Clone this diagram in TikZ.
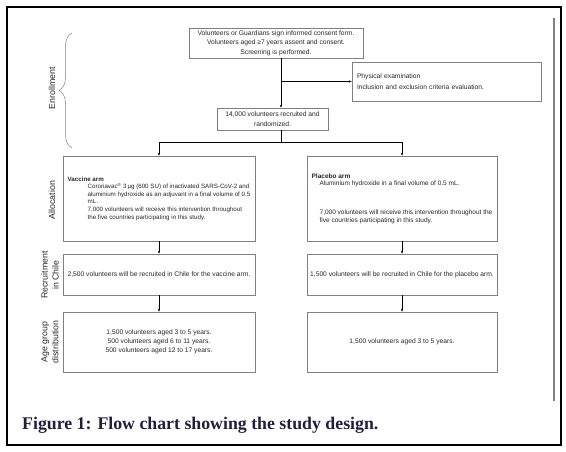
\documentclass[tikz,border=0pt]{standalone}
\usepackage{fontspec}
\setmainfont{Liberation Sans}
\newfontfamily\capfont{Liberation Serif}
\usetikzlibrary{arrows.meta,decorations.pathreplacing}
\definecolor{boxgray}{RGB}{128,128,128}
\definecolor{capblue}{RGB}{35,31,58}
\tikzset{
  box/.style={draw=boxgray,line width=0.6pt,inner sep=0pt,text=black!85,
    font=\fontsize{6.7}{9.7}\selectfont,align=center},
  armbox/.style={box,font=\fontsize{6.5}{7.4}\selectfont,align=left},
  phase/.style={rotate=90,align=center,text=black!85,
    font=\fontsize{8.8}{11}\selectfont},
}
\begin{document}
\begin{tikzpicture}[x=1pt,y=-1pt,>={Stealth[length=3pt,width=2.4pt]}]
\useasboundingbox (0,0) rectangle (566,452);
\draw[line width=1.3pt] (7,7) rectangle (561,445);
\draw[boxgray,line width=2.2pt] (554,18) -- (554,401);
% enrollment
\node[box,minimum width=174pt,minimum height=30pt] (consent) at (276,43)
  {Volunteers or Guardians sign informed consent form.\\
   Volunteers aged ≥7 years assent and consent.\\
   Screening is performed.};
\node[box,minimum width=189pt,minimum height=39pt,align=left,text width=179pt,
  font=\fontsize{6.7}{11}\selectfont] (exam) at (446.5,81.5)
  {Physical examination\\Inclusion and exclusion criteria evaluation.};
\node[box,minimum width=111pt,minimum height=22pt] (random) at (272.5,119)
  {14,000 volunteers recruited and\\randomized.};
\coordinate (split) at (281,142);
\draw[->] (consent.south -| split) -- (random.north -| split);
\draw[->] (split |- exam.west) -- (exam.west);
% allocation
\node[armbox,minimum width=192pt,minimum height=85pt,font=\fontsize{6.2}{7.6}\selectfont] (vaccine) at (159,198.5)
  {\textbf{Vaccine arm}\\
   \hspace*{20pt}Coronavac\textsuperscript{®} 3\,µg (600 SU) of inactivated SARS-CoV-2 and\\
   \hspace*{20pt}aluminium hydroxide as an adjuvant in a final volume of 0.5\\
   \hspace*{20pt}mL.\\
   \hspace*{20pt}7,000 volunteers will receive this intervention throughout\\
   \hspace*{20pt}the five countries participating in this study.};
\node[armbox,minimum width=190pt,minimum height=85pt] (placebo) at (402,198.5)
  {\textbf{Placebo arm}\\
   \hspace*{8pt}Aluminium hydroxide in a final volume of 0.5 mL.\\[22pt]
   \hspace*{8pt}7,000 volunteers will receive this intervention throughout the\\
   \hspace*{8pt}five countries participating in this study.};
\draw (random.south -| split) -- (split);
\draw[->] (split) -| (vaccine);
\draw[->] (split) -| (placebo);
% recruitment in Chile
\node[box,minimum width=192pt,minimum height=41pt] (chilevac) at (159,274.5)
  {2,500 volunteers will be recruited in Chile for the vaccine arm.};
\node[box,minimum width=190pt,minimum height=41pt] (chileplac) at (402,274.5)
  {1,500 volunteers will be recruited in Chile for the placebo arm.};
\draw[->] (vaccine) -- (chilevac);
\draw[->] (placebo) -- (chileplac);
% age groups
\node[box,minimum width=192pt,minimum height=60pt,font=\fontsize{6.7}{9}\selectfont] (agevac) at (159,342)
  {1,500 volunteers aged 3 to 5 years.\\
   500 volunteers aged 6 to 11 years.\\
   500 volunteers aged 12 to 17 years.};
\node[box,minimum width=190pt,minimum height=60pt] (ageplac) at (402,342)
  {1,500 volunteers aged 3 to 5 years.};
\draw[->] (chilevac) -- (agevac);
\draw[->] (chileplac) -- (ageplac);
% phase labels
\node[phase] (enrol) at (52,88) {Enrollment};
\draw[boxgray,line width=0.5pt,decorate,decoration={brace,amplitude=13pt}]
  (72,148) -- (72,33);
\node[phase] (alloc) at (52,200) {Allocation};
\node[phase] (recruit) at (50,275) {Recruitment\\in Chile};
\node[phase] (agegrp) at (50,342) {Age group\\distribution};
% caption
\node[anchor=base west,inner sep=0pt,text=capblue,font=\capfont\bfseries\fontsize{17.8}{20}\selectfont]
  (caption) at (22,429) {Figure 1: Flow chart showing the study design.};
\end{tikzpicture}
\end{document}
